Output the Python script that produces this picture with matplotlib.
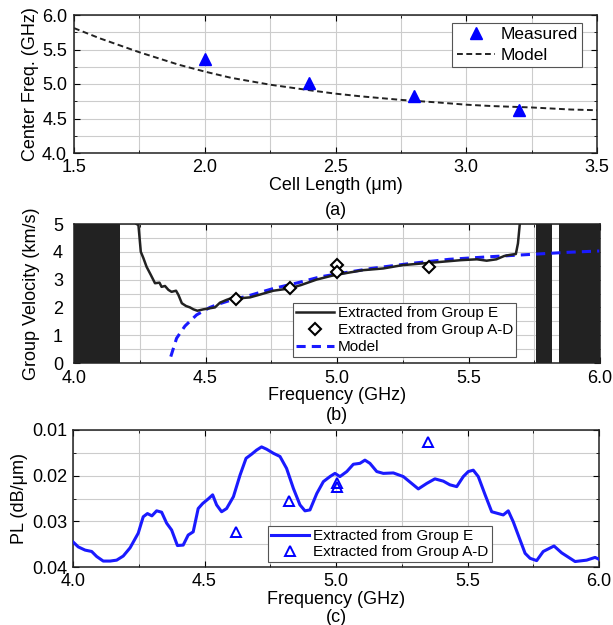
import matplotlib
matplotlib.use("Agg")
import matplotlib.pyplot as plt
from matplotlib.ticker import MultipleLocator

plt.rcParams['font.family'] = ['Liberation Sans', 'DejaVu Sans']
plt.rcParams['font.size'] = 13

# ---------------- Data ----------------
# (a) center frequency vs cell length
cell_meas = [2.0, 2.4, 2.8, 3.2]
freq_meas = [5.36, 5.02, 4.83, 4.63]
cell_model = [1.5, 1.6, 1.75, 1.9, 2.0, 2.1, 2.25, 2.4, 2.5, 2.6, 2.75, 2.9, 3.0, 3.1, 3.25, 3.4, 3.5]
freq_model = [5.81, 5.66, 5.46, 5.28, 5.18, 5.09, 4.99, 4.91, 4.86, 4.82, 4.77, 4.73, 4.70, 4.68, 4.66, 4.63, 4.62]

# (b) group velocity
fE_b = [4.238, 4.245, 4.254, 4.264, 4.276, 4.292, 4.308, 4.325, 4.333, 4.346, 4.359, 4.371,
        4.388, 4.397, 4.41, 4.426, 4.441, 4.454, 4.469, 4.492, 4.517, 4.536, 4.555, 4.58,
        4.606, 4.631, 4.669, 4.699, 4.758, 4.818, 4.862, 4.922, 4.981, 5.026, 5.1, 5.175,
        5.249, 5.323, 5.398, 5.472, 5.532, 5.569, 5.606, 5.636, 5.658, 5.68, 5.688, 5.695]
vE_b = [5.0, 4.96, 4.0, 3.77, 3.46, 3.17, 2.87, 2.89, 2.74, 2.77, 2.63, 2.56,
        2.6, 2.45, 2.15, 2.05, 2.0, 1.93, 1.88, 1.93, 1.97, 2.0, 2.17, 2.27,
        2.36, 2.33, 2.36, 2.44, 2.6, 2.68, 2.8, 3.0, 3.14, 3.22, 3.34, 3.4,
        3.52, 3.58, 3.64, 3.7, 3.73, 3.68, 3.73, 3.85, 3.89, 3.92, 4.3, 5.0]
fAD = [4.615, 4.82, 5.0, 5.0, 5.35]
vAD = [2.32, 2.68, 3.52, 3.27, 3.47]
f_model_b = [4.368, 4.39, 4.422, 4.466, 4.517, 4.55, 4.606, 4.657, 4.758, 4.848, 4.937, 5.011,
             5.13, 5.279, 5.427, 5.576, 5.725, 5.874, 6.0]
v_model_b = [0.23, 0.89, 1.33, 1.73, 2.0, 2.12, 2.29, 2.4, 2.68, 2.88, 3.1, 3.22,
             3.4, 3.58, 3.73, 3.82, 3.9, 3.98, 4.03]
stopbands = [(4.0, 4.175), (5.755, 5.817), (5.844, 6.0)]

# (c) propagation loss
fE_c = [4.0, 4.02, 4.046, 4.071, 4.09, 4.115, 4.141, 4.166, 4.191, 4.217, 4.248, 4.267, 4.283,
        4.3, 4.318, 4.337, 4.356, 4.375, 4.397, 4.419, 4.438, 4.457, 4.476, 4.493, 4.514, 4.531,
        4.546, 4.565, 4.584, 4.61, 4.635, 4.658, 4.679, 4.698, 4.717, 4.736, 4.762, 4.787,
        4.812, 4.838, 4.863, 4.882, 4.901, 4.927, 4.952, 4.977, 4.996, 5.015, 5.041, 5.066,
        5.091, 5.11, 5.129, 5.155, 5.18, 5.218, 5.256, 5.294, 5.313, 5.345, 5.376, 5.408,
        5.433, 5.459, 5.484, 5.503, 5.522, 5.541, 5.567, 5.592, 5.617, 5.636, 5.655, 5.674,
        5.7, 5.719, 5.738, 5.763, 5.788, 5.829, 5.858, 5.909, 5.953, 5.985, 6.0]
pl_c = [0.0345, 0.0356, 0.0363, 0.0366, 0.0377, 0.0387, 0.0387, 0.0385, 0.0376, 0.0358, 0.0326,
        0.0290, 0.0283, 0.0288, 0.0277, 0.0280, 0.0304, 0.0319, 0.0353, 0.0352, 0.0330, 0.0323,
        0.0272, 0.0261, 0.0251, 0.0242, 0.0264, 0.0279, 0.0272, 0.0246, 0.0199, 0.0162, 0.0153,
        0.0144, 0.0137, 0.0142, 0.0151, 0.0158, 0.0184, 0.0228, 0.0264, 0.0277, 0.0275, 0.0239,
        0.0213, 0.0202, 0.0195, 0.0202, 0.0191, 0.0175, 0.0173, 0.0166, 0.0173, 0.0191, 0.0195,
        0.0194, 0.0202, 0.0220, 0.0229, 0.0217, 0.0207, 0.0212, 0.0220, 0.0224, 0.0202, 0.0191,
        0.0188, 0.0202, 0.0242, 0.0279, 0.0283, 0.0286, 0.0277, 0.0301, 0.0341, 0.0370, 0.0381,
        0.0386, 0.0366, 0.0354, 0.0369, 0.0388, 0.0385, 0.0379, 0.0383]
fAD_c = [4.62, 4.822, 5.003, 5.003, 5.351]
pl_AD = [0.0323, 0.0256, 0.0215, 0.0224, 0.0126]

# ---------------- Figure ----------------
W, H = 613, 625
fig = plt.figure(figsize=(W / 100, H / 100), dpi=100)

def box(l, t, r, b):
    return fig.add_axes([l / W, 1 - b / H, (r - l) / W, (b - t) / H])

def style(ax, xmaj, xmin, ymaj, ymin, xpad=4, ypad=4):
    ax.xaxis.set_major_locator(MultipleLocator(xmaj))
    ax.xaxis.set_minor_locator(MultipleLocator(xmin))
    ax.yaxis.set_major_locator(MultipleLocator(ymaj))
    ax.yaxis.set_minor_locator(MultipleLocator(ymin))
    ax.grid(True, which='both', color='#cccccc', lw=0.8, zorder=0)
    ax.set_axisbelow(True)
    ax.tick_params(which='both', direction='in', top=True, right=True, labelsize=13)
    ax.tick_params(axis='x', which='major', pad=xpad)
    ax.tick_params(axis='y', which='major', pad=ypad)
    ax.tick_params(which='major', length=4)
    ax.tick_params(which='minor', length=2.5)
    for s in ax.spines.values():
        s.set_color('#222222')
        s.set_linewidth(1.1)

def legend_frame(leg):
    fr = leg.get_frame()
    fr.set_edgecolor('#555555')
    fr.set_linewidth(0.8)
    fr.set_alpha(1)

# (a)
ax1 = box(74, 15, 597, 153)
ax1.plot(cell_meas, freq_meas, linestyle='none', marker='^', color='#0000ff', ms=9,
         label='Measured', zorder=3)
ax1.plot(cell_model, freq_model, color='#222222', lw=1.4, linestyle=(0, (3, 1.8)),
         label='Model', zorder=2)
ax1.set_xlim(1.5, 3.5)
ax1.set_ylim(4.0, 6.0)
style(ax1, 0.5, 0.25, 0.5, 0.25, xpad=4, ypad=5)
ax1.set_xticks([1.5, 2.0, 2.5, 3.0, 3.5])
ax1.set_xticklabels(['1.5', '2.0', '2.5', '3.0', '3.5'])
ax1.set_yticks([4.0, 4.5, 5.0, 5.5, 6.0])
ax1.set_yticklabels(['4.0', '4.5', '5.0', '5.5', '6.0'])
ax1.set_xlabel('Cell Length (\u03bcm)', fontsize=13, labelpad=1)
ax1.set_ylabel('Center Freq. (GHz)', fontsize=13, labelpad=2)
leg1 = ax1.legend(loc='upper right', fontsize=12.5, frameon=True, fancybox=False,
                  handlelength=2.2, borderpad=0.25, labelspacing=0.3, handletextpad=0.3,
                  bbox_to_anchor=(0.971, 0.942), borderaxespad=0)
legend_frame(leg1)
fig.text(((74 + 597) / 2) / W, 1 - 210 / H, '(a)', ha='center', va='center', fontsize=13)

# (b)
ax2 = box(74, 224, 600, 363)
for lo, hi in stopbands:
    ax2.axvspan(lo, hi, color='#222222', zorder=1, lw=0)
ax2.plot(fE_b, vE_b, color='#222222', lw=1.8, label='Extracted from Group E', zorder=3)
ax2.plot(fAD, vAD, linestyle='none', marker='D', mfc='white', mec='black', mew=1.5, ms=6.5,
         label='Extracted from Group A-D', zorder=4)
ax2.plot(f_model_b, v_model_b, color='#1a1aff', lw=2.2, linestyle=(0, (3, 2)),
         label='Model', zorder=2)
ax2.set_xlim(4.0, 6.0)
ax2.set_ylim(0, 5)
style(ax2, 0.5, 0.25, 1, 0.5, xpad=5, ypad=8)
ax2.set_xticks([4.0, 4.5, 5.0, 5.5, 6.0])
ax2.set_xticklabels(['4.0', '4.5', '5.0', '5.5', '6.0'])
ax2.set_xlabel('Frequency (GHz)', fontsize=13, labelpad=0)
ax2.set_ylabel('Group Velocity (km/s)', fontsize=13, labelpad=9)
leg2 = ax2.legend(loc='lower left', bbox_to_anchor=(0.416, 0.043), fontsize=11,
                  frameon=True, fancybox=False, handlelength=2.5, borderpad=0.2,
                  labelspacing=0.2, handletextpad=0.25, borderaxespad=0)
legend_frame(leg2)
fig.text(((74 + 600) / 2) / W, 1 - 415 / H, '(b)', ha='center', va='center', fontsize=13)

# (c)
ax3 = box(73, 430, 599, 567)
ax3.plot(fE_c, pl_c, color='#1a1aff', lw=2.2, label='Extracted from Group E', zorder=3)
ax3.plot(fAD_c, pl_AD, linestyle='none', marker='^', mfc='none', mec='#0000ff', mew=1.4, ms=7.5,
         label='Extracted from Group A-D', zorder=4)
ax3.set_xlim(4.0, 6.0)
ax3.set_ylim(0.04, 0.01)
style(ax3, 0.5, 0.25, 0.01, 0.005, xpad=4, ypad=4)
ax3.set_xticks([4.0, 4.5, 5.0, 5.5, 6.0])
ax3.set_xticklabels(['4.0', '4.5', '5.0', '5.5', '6.0'])
ax3.set_yticks([0.01, 0.02, 0.03, 0.04])
ax3.set_yticklabels(['0.01', '0.02', '0.03', '0.04'])
ax3.set_xlabel('Frequency (GHz)', fontsize=13, labelpad=1)
ax3.set_ylabel('PL (dB/\u03bcm)', fontsize=13, labelpad=3)
leg3 = ax3.legend(loc='lower left', bbox_to_anchor=(0.371, 0.036), fontsize=11,
                  frameon=True, fancybox=False, handlelength=2.5, borderpad=0.2,
                  labelspacing=0.1, handletextpad=0.25, borderaxespad=0)
legend_frame(leg3)
fig.text(((73 + 599) / 2) / W, 1 - 618 / H, '(c)', ha='center', va='center', fontsize=13)

fig.savefig('out.png', dpi=100, facecolor='white')
